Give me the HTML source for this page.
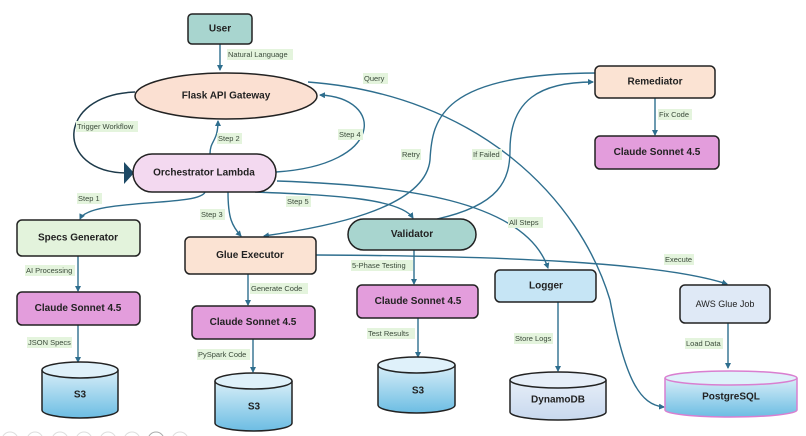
<!DOCTYPE html>
<html><head><meta charset="utf-8"><style>
body{margin:0;background:#fff}
svg{display:block;font-family:"Liberation Sans",sans-serif}
.n{stroke:#222;stroke-width:1.5}
.t{font-weight:bold;font-size:10px;fill:#222;text-anchor:middle;dominant-baseline:central}
.c{fill:none;stroke:#2e6e8e;stroke-width:1.4}
.lb{fill:#e4f4dd}
.l{font-size:7.5px;fill:#3a4a3a;dominant-baseline:central}
</style></head><body>
<svg width="806" height="436" viewBox="0 0 806 436">
<defs>
<marker id="a" markerWidth="6" markerHeight="6" refX="5" refY="3" orient="auto" markerUnits="userSpaceOnUse"><path d="M0,0 L6,3 L0,6 z" fill="#2e6e8e"/></marker>
<linearGradient id="g" x1="0" y1="0" x2="0" y2="1"><stop offset="0" stop-color="#d8eef8"/><stop offset="1" stop-color="#6cbde3"/></linearGradient>
<linearGradient id="gd" x1="0" y1="0" x2="0" y2="1"><stop offset="0" stop-color="#e6eef8"/><stop offset="1" stop-color="#c8d8ee"/></linearGradient>
</defs>

<!-- connectors -->
<path class="c" d="M220,44 L220,70" marker-end="url(#a)"/>
<path d="M135,92 C55,95 55,172 126,173" fill="none" stroke="#1d3a4a" stroke-width="1.5"/>
<path d="M124,162 L134,173 L124,184 z" fill="#1d4a66"/>
<path class="c" d="M210,154 C210,140 218,142 218,121" marker-end="url(#a)"/>
<path class="c" d="M276,172 C385,165 385,98 320,95" marker-end="url(#a)"/>
<path class="c" d="M308,82 C480,95 580,200 610,300 C625,380 640,405 664,407" marker-end="url(#a)"/>
<path class="c" d="M598,73 C440,73 432,120 430,160 C425,210 320,228 264,236" marker-end="url(#a)"/>
<path class="c" d="M437,219 C500,205 510,180 510,150 C510,100 540,82 593,82" marker-end="url(#a)"/>
<path class="c" d="M205,192 C200,207 90,198 80,219" marker-end="url(#a)"/>
<path class="c" d="M228,192 C228,218 232,226 241,236" marker-end="url(#a)"/>
<path class="c" d="M255,192 C330,195 400,198 413,218" marker-end="url(#a)"/>
<path class="c" d="M277,181 C400,185 525,200 548,268" marker-end="url(#a)"/>
<path class="c" d="M316,255 C500,256 660,262 727,284" marker-end="url(#a)"/>
<path class="c" d="M655,98 L655,135" marker-end="url(#a)"/>
<path class="c" d="M78,256 L78,291" marker-end="url(#a)"/>
<path class="c" d="M78,325 L78,362" marker-end="url(#a)"/>
<path class="c" d="M248,274 L248,305" marker-end="url(#a)"/>
<path class="c" d="M253,339 L253,372" marker-end="url(#a)"/>
<path class="c" d="M414,250 L414,284" marker-end="url(#a)"/>
<path class="c" d="M418,318 L418,357" marker-end="url(#a)"/>
<path class="c" d="M558,302 L558,371" marker-end="url(#a)"/>
<path class="c" d="M728,323 L728,368" marker-end="url(#a)"/>

<!-- labels -->
<g>
<rect class="lb" x="227" y="49" width="66" height="11"/><text class="l" x="228" y="54.5">Natural Language</text>
<rect class="lb" x="363" y="73" width="25" height="11"/><text class="l" x="364" y="78.5">Query</text>
<rect class="lb" x="76" y="121" width="62" height="11"/><text class="l" x="77" y="126.5">Trigger Workflow</text>
<rect class="lb" x="217" y="133" width="25" height="11"/><text class="l" x="218" y="138.5">Step 2</text>
<rect class="lb" x="338" y="129" width="25" height="11"/><text class="l" x="339" y="134.5">Step 4</text>
<rect class="lb" x="401" y="149" width="20" height="11"/><text class="l" x="402" y="154.5">Retry</text>
<rect class="lb" x="472" y="149" width="30" height="11"/><text class="l" x="473" y="154.5">If Failed</text>
<rect class="lb" x="658" y="109" width="34" height="11"/><text class="l" x="659" y="114.5">Fix Code</text>
<rect class="lb" x="77" y="193" width="25" height="11"/><text class="l" x="78" y="198.5">Step 1</text>
<rect class="lb" x="286" y="196" width="25" height="11"/><text class="l" x="287" y="201.5">Step 5</text>
<rect class="lb" x="200" y="209" width="25" height="11"/><text class="l" x="201" y="214.5">Step 3</text>
<rect class="lb" x="508" y="217" width="35" height="11"/><text class="l" x="509" y="222.5">All Steps</text>
<rect class="lb" x="25" y="265" width="50" height="11"/><text class="l" x="26" y="270.5">AI Processing</text>
<rect class="lb" x="351" y="260" width="62" height="11"/><text class="l" x="352" y="265.5">5-Phase Testing</text>
<rect class="lb" x="664" y="254" width="30" height="11"/><text class="l" x="665" y="259.5">Execute</text>
<rect class="lb" x="250" y="283" width="58" height="11"/><text class="l" x="251" y="288.5">Generate Code</text>
<rect class="lb" x="27" y="337" width="45" height="11"/><text class="l" x="28" y="342.5">JSON Specs</text>
<rect class="lb" x="367" y="328" width="48" height="11"/><text class="l" x="368" y="333.5">Test Results</text>
<rect class="lb" x="514" y="333" width="39" height="11"/><text class="l" x="515" y="338.5">Store Logs</text>
<rect class="lb" x="685" y="338" width="38" height="11"/><text class="l" x="686" y="343.5">Load Data</text>
<rect class="lb" x="197" y="349" width="53" height="11"/><text class="l" x="198" y="354.5">PySpark Code</text>
</g>

<!-- nodes -->
<rect class="n" x="188" y="14" width="64" height="30" rx="4" fill="#a8d5cf"/><text class="t" x="220" y="29">User</text>
<ellipse class="n" cx="226" cy="96" rx="91" ry="23" fill="#fbe0d2"/><text class="t" x="226" y="96">Flask API Gateway</text>
<rect class="n" x="133" y="154" width="143" height="38" rx="19" fill="#f3d9f0"/><text class="t" x="204" y="173">Orchestrator Lambda</text>
<rect class="n" x="595" y="66" width="120" height="32" rx="5" fill="#fbe3d3"/><text class="t" x="655" y="82">Remediator</text>
<rect class="n" x="595" y="136" width="124" height="33" rx="5" fill="#e39ddc"/><text class="t" x="657" y="152.5">Claude Sonnet 4.5</text>
<rect class="n" x="17" y="220" width="123" height="36" rx="5" fill="#e3f3dc"/><text class="t" x="78" y="238">Specs Generator</text>
<rect class="n" x="17" y="292" width="123" height="33" rx="5" fill="#e39ddc"/><text class="t" x="78" y="308.5">Claude Sonnet 4.5</text>
<rect class="n" x="185" y="237" width="131" height="37" rx="5" fill="#fbe3d3"/><text class="t" x="250" y="255.5">Glue Executor</text>
<rect class="n" x="192" y="306" width="123" height="33" rx="5" fill="#e39ddc"/><text class="t" x="253" y="322.5">Claude Sonnet 4.5</text>
<rect class="n" x="348" y="219" width="128" height="31" rx="15.5" fill="#a8d5cf"/><text class="t" x="412" y="234.5">Validator</text>
<rect class="n" x="357" y="285" width="121" height="33" rx="5" fill="#e39ddc"/><text class="t" x="418" y="301.5">Claude Sonnet 4.5</text>
<rect class="n" x="495" y="270" width="101" height="32" rx="5" fill="#c6e5f5"/><text class="t" x="546" y="286">Logger</text>
<rect class="n" x="680" y="285" width="90" height="38" rx="5" fill="#dfe9f6" stroke="#333"/><text x="725" y="304" style="font-size:9px;fill:#222;text-anchor:middle;dominant-baseline:central">AWS Glue Job</text>

<!-- cylinders -->
<g>
<path class="n" d="M42,370 L42,410 A38,8 0 0 0 118,410 L118,370" fill="url(#g)"/>
<ellipse class="n" cx="80" cy="370" rx="38" ry="8" fill="#dff1fa"/>
<text class="t" x="80" y="395">S3</text>

<path class="n" d="M215,381 L215,423 A38.5,8 0 0 0 292,423 L292,381" fill="url(#g)"/>
<ellipse class="n" cx="253.5" cy="381" rx="38.5" ry="8" fill="#dff1fa"/>
<text class="t" x="254" y="407">S3</text>

<path class="n" d="M378,365 L378,405 A38.5,8 0 0 0 455,405 L455,365" fill="url(#g)"/>
<ellipse class="n" cx="416.5" cy="365" rx="38.5" ry="8" fill="#dff1fa"/>
<text class="t" x="418" y="391">S3</text>

<path class="n" d="M510,380 L510,412 A48,8 0 0 0 606,412 L606,380" fill="url(#gd)"/>
<ellipse class="n" cx="558" cy="380" rx="48" ry="8" fill="#e6eef8"/>
<text class="t" x="558" y="400">DynamoDB</text>

<path d="M665,378 L665,410 A66,7 0 0 0 797,410 L797,378" fill="url(#g)" stroke="#d97fd0" stroke-width="1.5"/>
<ellipse cx="731" cy="378" rx="66" ry="7" fill="#dff1fa" stroke="#d97fd0" stroke-width="1.5"/>
<text class="t" x="731" y="397">PostgreSQL</text>
</g>

<!-- faint circles bottom -->
<g fill="none" stroke="#ddd" stroke-width="1">
<circle cx="10" cy="440" r="8"/><circle cx="35" cy="440" r="8"/><circle cx="60" cy="440" r="8"/><circle cx="84" cy="440" r="8"/><circle cx="108" cy="440" r="8"/><circle cx="132" cy="440" r="8"/><circle cx="156" cy="440" r="8" stroke="#aaa"/><circle cx="180" cy="440" r="8"/>
</g>
</svg>
</body></html>
